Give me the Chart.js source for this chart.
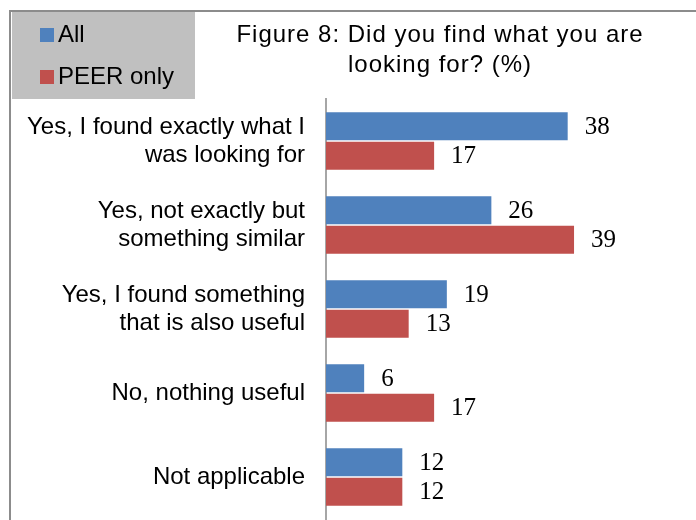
<!DOCTYPE html>
<html>
<head>
<meta charset="utf-8">
<title>Figure 8</title>
<script src="https://cdn.jsdelivr.net/npm/chart.js@4.4.1/dist/chart.umd.min.js"></script>
<style>
  body { margin: 0; background: #fff; }
  #wrap { position: relative; width: 696px; height: 520px; }
</style>
</head>
<body>
<div id="wrap"><canvas id="chart" width="696" height="520"></canvas></div>
<script>
// answers (multi-line tick labels)
const categories = [
  ['Yes, I found exactly what I', 'was looking for'],
  ['Yes, not exactly but', 'something similar'],
  ['Yes, I found something', 'that is also useful'],
  'No, nothing useful',
  'Not applicable'
];
const seriesNames = ['All', 'PEER only'];
const allValues = [38, 26, 19, 6, 12];
const peerValues = [17, 39, 13, 17, 12];
const titleLines = ['Figure 8: Did you find what you are', 'looking for? (%)'];

const BLUE = '#4F81BD';
const RED = '#C0504D';
const SANS = '"Liberation Sans", Arial, sans-serif';
const SERIF = '"Liberation Serif", "Times New Roman", serif';

// frame, grey legend box and title
const decorPlugin = {
  id: 'decor',
  beforeDraw(chart) {
    const ctx = chart.ctx;
    ctx.save();
    ctx.fillStyle = '#fff';
    ctx.fillRect(0, 0, chart.width, chart.height);
    ctx.strokeStyle = '#8c8c8c';
    ctx.lineWidth = 2;
    ctx.beginPath();
    ctx.moveTo(10, chart.height);
    ctx.lineTo(10, 11);
    ctx.lineTo(chart.width, 11);
    ctx.stroke();

    ctx.fillStyle = '#C0C0C0';
    ctx.fillRect(12, 12, 183, 87);
    ctx.restore();
  },
  afterDraw(chart) {
    const ctx = chart.ctx;
    ctx.save();
    // legend entries
    const colors = [BLUE, RED];
    const baselines = [42, 84];
    ctx.font = '24px ' + SANS;
    ctx.textBaseline = 'alphabetic';
    ctx.textAlign = 'left';
    seriesNames.forEach((name, i) => {
      ctx.fillStyle = colors[i];
      ctx.fillRect(40, baselines[i] - 14, 14, 14);
      ctx.fillStyle = '#000';
      ctx.fillText(name, 58, baselines[i]);
    });
    // title
    ctx.font = '24px ' + SANS;
    ctx.letterSpacing = '1px';
    ctx.textAlign = 'center';
    ctx.fillText(titleLines[0], 440, 42);
    ctx.fillText(titleLines[1], 440, 72);
    ctx.restore();
  }
};

// value labels to the right of each bar
const valueLabels = {
  id: 'valueLabels',
  afterDatasetsDraw(chart) {
    const ctx = chart.ctx;
    ctx.save();
    ctx.font = '25px ' + SERIF;
    ctx.fillStyle = '#000';
    ctx.textAlign = 'left';
    ctx.textBaseline = 'middle';
    chart.data.datasets.forEach((ds, i) => {
      chart.getDatasetMeta(i).data.forEach((bar, j) => {
        ctx.fillText(ds.data[j], bar.x + 17, bar.y + 1);
      });
    });
    ctx.restore();
  }
};

new Chart(document.getElementById('chart'), {
  type: 'bar',
  data: {
    labels: categories,
    datasets: [
      { label: seriesNames[0], data: allValues, backgroundColor: BLUE },
      { label: seriesNames[1], data: peerValues, backgroundColor: RED }
    ]
  },
  options: {
    indexAxis: 'y',
    responsive: false,
    animation: false,
    categoryPercentage: 0.7,
    barPercentage: 0.95,
    layout: { padding: { top: 99, right: 52, bottom: 1, left: 0 } },
    plugins: {
      legend: { display: false },
      title: { display: false },
      tooltip: { enabled: false }
    },
    scales: {
      x: { display: false, min: 0, max: 50 },
      y: {
        afterFit(scale) {
          scale.width = 326;
          scale.paddingTop = 0;
          scale.paddingBottom = 0;
        },
        grid: { display: false, drawTicks: false },
        border: { display: true, color: '#a6a6a6', width: 2 },
        ticks: {
          color: '#000',
          padding: 21,
          font: { family: SANS, size: 24, lineHeight: 1.17 }
        }
      }
    }
  },
  plugins: [decorPlugin, valueLabels]
});
</script>
</body>
</html>
